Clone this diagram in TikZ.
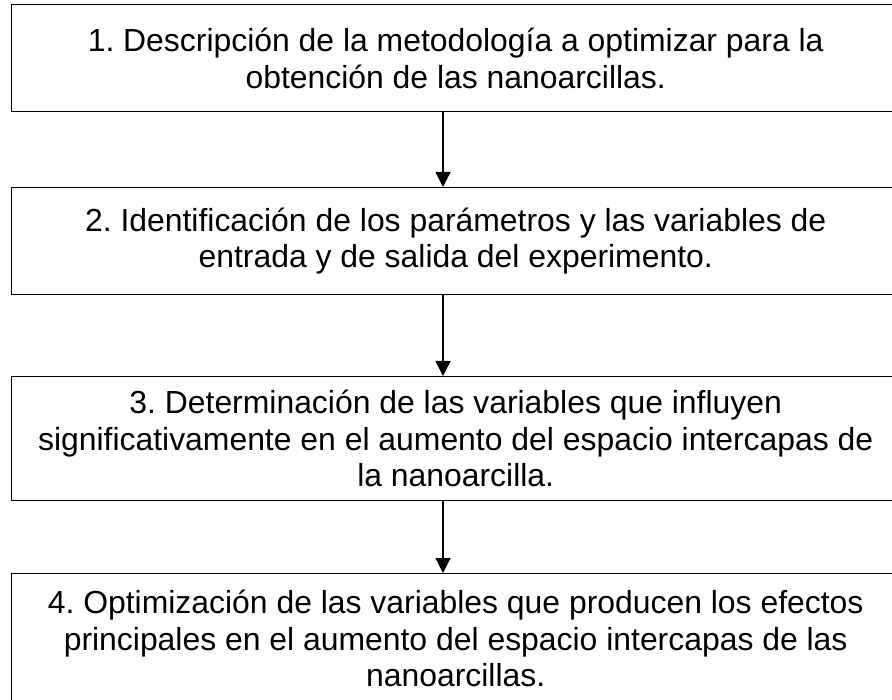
\documentclass[tikz,border=0pt]{standalone}
\usepackage{fontspec}
\setmainfont{Liberation Sans}
\usetikzlibrary{arrows.meta}
\frenchspacing
\begin{document}
\begin{tikzpicture}[x=1pt,y=-1pt,
  stepbox/.style={draw, line width=1.4pt, rectangle, minimum width=888pt, align=center,
    inner sep=0pt, font=\fontsize{31.9}{36.5}\selectfont, anchor=north west},
  conn/.style={line width=1.3pt, -{Triangle[width=15pt,length=15pt]}}]
\useasboundingbox (0,0) rectangle (892,700);
\node[stepbox, minimum height=107pt] (b1) at (11,4)
  {1. Descripción de la metodología a optimizar para la\\obtención de las nanoarcillas.};
\node[stepbox, minimum height=107pt] (b2) at (11,187)
  {2. Identificación de los parámetros y las variables de\\entrada y de salida del experimento.};
\node[stepbox, minimum height=124pt] (b3) at (11,376)
  {3. Determinación de las variables que influyen\\significativamente en el aumento del espacio intercapas de\\la nanoarcilla.};
\node[stepbox, minimum height=130pt] (b4) at (11,573)
  {4. Optimización de las variables que producen los efectos\\principales en el aumento del espacio intercapas de las\\nanoarcillas.};
\coordinate (ax) at (443,0);
\draw[conn] (b1.south -| ax) -- (b2.north -| ax);
\draw[conn] (b2.south -| ax) -- (b3.north -| ax);
\draw[conn] (b3.south -| ax) -- (b4.north -| ax);
\end{tikzpicture}
\end{document}
